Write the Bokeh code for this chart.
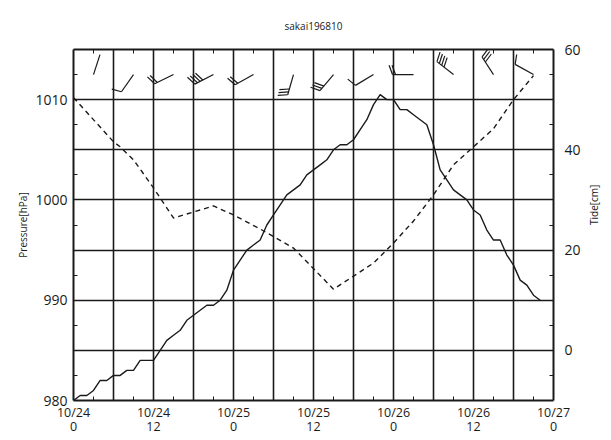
import math
from bokeh.plotting import figure
from bokeh.models import Range1d, LinearAxis, FixedTicker, ColumnDataSource
from bokeh.embed import file_html
from bokeh.resources import INLINE

# ---------------- data ----------------
title_text = "sakai196810"

tide_hours = list(range(0, 71))
tide_cm = [-10, -9, -9, -8, -6, -6, -5, -5, -4, -4, -2, -2, -2, 0, 2, 3, 4, 6, 7, 8,
           9, 9, 10, 12, 16, 18, 20, 21, 22, 25, 27, 29, 31, 32, 33, 35, 36, 37, 38, 40,
           41, 41, 42, 44, 46, 49, 51, 50, 50, 48, 48, 47, 46, 45, 41, 36, 34, 32, 31, 30,
           28, 27, 24, 22, 22, 19, 17, 14, 13, 11, 10]

pres_hours = [0, 6, 7, 9, 12, 15, 21, 24, 28, 33, 39, 42, 45, 48, 51, 54, 57, 60, 63, 66, 69]
pressure_hpa = [1010.2, 1005.8, 1005.3, 1004.0, 1001.2, 998.2, 999.4, 998.5, 997.1, 995.2,
                991.1, 992.4, 993.7, 995.7, 997.9, 1000.5, 1003.5, 1005.3, 1007.1, 1010.0, 1012.4]

wind_hours = [3, 9, 15, 21, 27, 33, 39, 45, 51, 57, 63, 69]
wind_dir_deg = [18, 215, 244, 243, 241, 196, 220, 239, 270, 308, 327, 299]
wind_speed = [0, 10, 20, 40, 20, 30, 30, 10, 20, 40, 30, 10]   # 10 per barb feather

x_tick_hours = [0, 12, 24, 36, 48, 60, 72]
x_tick_labels = ["10/24\n0", "10/24\n12", "10/25\n0", "10/25\n12",
                 "10/26\n0", "10/26\n12", "10/27\n0"]
pres_ticks = [980, 990, 1000, 1010]
tide_ticks = [0, 20, 40, 60]

# ---------------- figure ----------------
FW, FH = 480, 351
X0, X1 = 0, 72
P0, P1 = 980, 1015
T0, T1 = -10, 60
FONT = "Open Sans"
INK = "#1a1a1a"

p = figure(frame_width=FW, frame_height=FH,
           x_range=Range1d(X0, X1), y_range=Range1d(P0, P1),
           output_backend="svg", toolbar_location=None,
           min_border_left=73, min_border_right=52,
           min_border_top=48, min_border_bottom=36)
p.extra_y_ranges = {"tide": Range1d(T0, T1)}
p.outline_line_color = None
p.background_fill_color = "white"
p.border_fill_color = "white"

p.title.text = title_text
p.title.align = "center"
p.title.offset = -7
p.title.standoff = 33
p.title.text_font = FONT
p.title.text_font_size = "10px"
p.title.text_font_style = "normal"
p.title.text_color = INK

def style_axis(ax, size="13px"):
    ax.axis_line_color = INK
    ax.axis_line_width = 2
    ax.major_tick_in = 0
    ax.major_tick_out = 0
    ax.minor_tick_in = 4
    ax.minor_tick_out = 0
    ax.minor_tick_line_color = INK
    ax.major_label_text_font = FONT
    ax.major_label_text_font_size = size
    ax.major_label_text_color = INK
    ax.axis_label_text_font = FONT
    ax.axis_label_text_font_size = "10px"
    ax.axis_label_text_font_style = "normal"
    ax.axis_label_text_color = INK

# bottom axis
xax = p.xaxis[0]
xax.ticker = FixedTicker(ticks=x_tick_hours, minor_ticks=list(range(3, 72, 6)))
xax.major_label_overrides = {h: lab for h, lab in zip(x_tick_hours, x_tick_labels)}
style_axis(xax, "12.5px")
xax.major_label_standoff = 3
xax.major_label_text_line_height = 0.88

# left axis
yax = p.yaxis[0]
yax.ticker = FixedTicker(ticks=pres_ticks,
                         minor_ticks=[982.5, 987.5, 992.5, 997.5, 1002.5, 1007.5, 1012.5])
yax.axis_label = "Pressure[hPa]"
style_axis(yax, "14px")
yax.major_label_standoff = 6
yax.axis_label_standoff = 2

# right axis
rax = LinearAxis(y_range_name="tide",
                 ticker=FixedTicker(ticks=tide_ticks, minor_ticks=[-5, 5, 15, 25, 35, 45, 55]),
                 axis_label="Tide[cm]")
style_axis(rax, "14px")
rax.major_label_standoff = 11
rax.axis_label_standoff = 10
rax.axis_label_orientation = math.pi / 2
p.add_layout(rax, "right")

# top axis (frame edge with minor ticks)
tax = LinearAxis(ticker=FixedTicker(ticks=[], minor_ticks=list(range(3, 72, 6))))
style_axis(tax)
tax.major_label_text_font_size = "0px"
p.add_layout(tax, "above")

# grids
p.xgrid.ticker = FixedTicker(ticks=list(range(6, 72, 6)))
p.ygrid.ticker = FixedTicker(ticks=[985, 990, 995, 1000, 1005, 1010])
for g in (p.xgrid[0], p.ygrid[0]):
    g.grid_line_color = INK
    g.grid_line_width = 1.6
    g.grid_line_alpha = 1.0

# series
p.line(pres_hours, pressure_hpa, line_color=INK, line_width=1.4, line_dash="5 4")
p.line(tide_hours, tide_cm, line_color=INK, line_width=1.4, y_range_name="tide")

# wind barbs (computed from direction / speed)
kx = FW / (X1 - X0)
ky = FH / (P1 - P0)
y_station = 1012.5
L_STAFF, L_FEATHER, SPACING, FEATHER_ANGLE = 21.0, 10.0, 3.0, 70.0
x0s, y0s, x1s, y1s = [], [], [], []
for h, d, s in zip(wind_hours, wind_dir_deg, wind_speed):
    th = math.radians(d)
    ux, uy = math.sin(th), math.cos(th)
    tx = h + L_STAFF * ux / kx
    ty = y_station + L_STAFF * uy / ky
    x0s.append(h); y0s.append(y_station); x1s.append(tx); y1s.append(ty)
    a = math.atan2(uy, ux) - math.radians(FEATHER_ANGLE)
    fx, fy = math.cos(a), math.sin(a)
    for i in range(int(s // 10)):
        bx = tx - i * SPACING * ux / kx
        by = ty - i * SPACING * uy / ky
        x0s.append(bx); y0s.append(by)
        x1s.append(bx + L_FEATHER * fx / kx); y1s.append(by + L_FEATHER * fy / ky)
barbs = ColumnDataSource(dict(x0=x0s, y0=y0s, x1=x1s, y1=y1s))
p.segment("x0", "y0", "x1", "y1", source=barbs, line_color=INK, line_width=1.2)

open("out.html", "w").write(file_html(p, INLINE))
